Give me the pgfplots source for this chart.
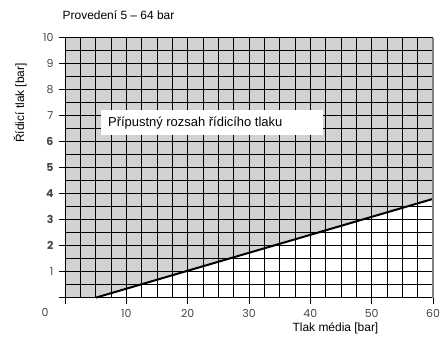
\documentclass[border=0pt]{standalone}
\usepackage{pgfplots}
\pgfplotsset{compat=1.18}
\usepackage{fontspec}
\setmainfont{Liberation Sans}
\newfontfamily\tickfont{Poppins}
\definecolor{areagray}{RGB}{210,210,210}
\definecolor{tickgray}{RGB}{70,70,70}
\begin{document}
\begin{tikzpicture}
\useasboundingbox (-65bp,-42.3bp) rectangle (381bp,297.7bp);
\begin{axis}[
  at={(0,0)}, anchor=south west,
  scale only axis, width=368bp, height=260bp,
  xmin=0, xmax=60, ymin=0, ymax=10,
  axis on top,
  clip=false,
  axis x line*=bottom, axis y line*=left,
  axis line style={black, line width=0.8pt},
  xtick={0,10,...,60},
  xticklabels={,10,20,30,40,50,60},
  ytick={0,1,...,10},
  yticklabels={,1,\textbf{2},\textbf{3},\textbf{4},\textbf{5},\textbf{6},7,8,9,10},
  minor x tick num=3, minor y tick num=1,
  grid=both,
  major grid style={black, line width=0.55pt},
  minor grid style={black, line width=0.55pt},
  tick align=outside,
  major tick length=6bp, minor tick length=0pt,
  tick style={black, line width=0.7pt},
  ticklabel style={font=\tickfont\fontsize{11}{13}\selectfont, text=tickgray},
  xticklabel style={yshift=-2bp},
  yticklabel style={xshift=-2bp},
  xlabel={Tlak média [bar]},
  ylabel={Řídicí tlak [bar]},
  label style={font=\fontsize{12}{14}\selectfont},
  xlabel style={at={(axis description cs:0.735,0)}, anchor=center, yshift=-31bp},
  ylabel style={at={(axis description cs:-0.122,0.749)}, anchor=center},
]
\addplot[fill=areagray, draw=none] coordinates {(0,0) (5,0) (60,3.8) (60,10) (0,10)} -- cycle;
\addplot[on layer=axis foreground, black, line width=2pt] coordinates {(5,0) (60,3.8)};
\coordinate (boxsw) at (axis cs:5.8,6.24);
\coordinate (textw) at (axis cs:7.0,6.72);
\coordinate (rtop) at (axis cs:60,10);
\coordinate (rbot) at (axis cs:60,0);
\node[anchor=west, inner sep=0pt, font=\fontsize{12}{14}\selectfont]
  at (rel axis cs:0,1) [xshift=-2.5bp, yshift=22.5bp] {Provedení 5 – 64 bar};
\node[inner sep=0pt, font=\tickfont\fontsize{11}{13}\selectfont, text=tickgray]
  at (rel axis cs:0,0) [xshift=-20bp, yshift=-14.5bp] {0};
\end{axis}
\draw[black!50, line width=1.2pt] (rbot) -- (rtop);
\node[fill=white, anchor=south west, inner sep=0pt,
      minimum width=222bp, minimum height=25bp] at (boxsw) {};
\node[anchor=west, inner sep=0pt, font=\fontsize{13}{15}\selectfont] at (textw) {Přípustný rozsah řídicího tlaku};
\end{tikzpicture}
\end{document}
